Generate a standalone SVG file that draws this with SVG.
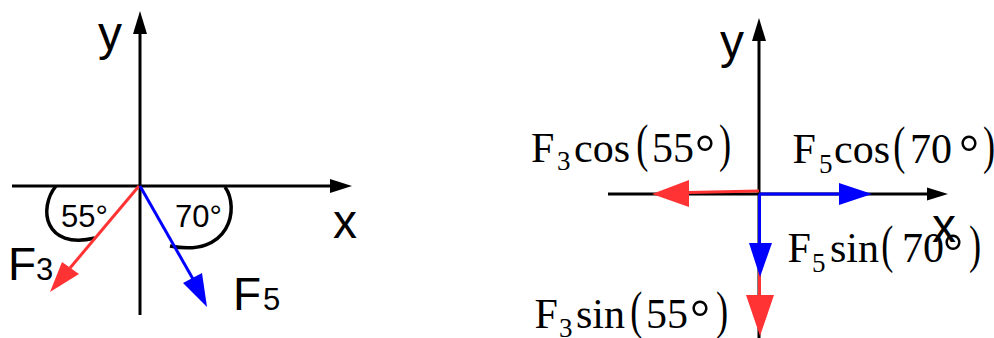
<svg xmlns="http://www.w3.org/2000/svg" width="994" height="338" viewBox="0 0 994 338">
  <defs>
    <style>
      .axis { stroke: #000; stroke-width: 3; fill: none; }
      .arc { stroke: #000; stroke-width: 3.5; fill: none; }
      .red { stroke: #ff3333; stroke-width: 3; fill: none; }
      .blue { stroke: #0000ff; stroke-width: 3; fill: none; }
      .redh { fill: #ff3333; }
      .blueh { fill: #0000ff; }
      .blk { fill: #000; }
      .sans { font-family: "Liberation Sans", Arial, sans-serif; fill: #000; }
      .serif { font-family: "Liberation Serif", "Times New Roman", serif; fill: #000; }
      .m { font-size: 42px; }
      .s { font-size: 27px; }
      .p { font-size: 52px; }
      .d { font-size: 50px; }
    </style>
  </defs>

  <!-- LEFT DIAGRAM -->
  <g id="left-axes">
    <line class="axis" x1="140" y1="315" x2="140" y2="32"/>
    <polygon class="blk" points="140,11 133,34 147,34"/>
    <line class="axis" x1="12" y1="186" x2="332" y2="186"/>
    <polygon class="blk" points="352,186 330,179 330,193"/>
    <text class="sans" x="98" y="50" font-size="48">y</text>
    <text class="sans" x="333" y="238" font-size="48">x</text>
  </g>
  <g id="angle-55">
    <path class="arc" d="M 56 186 C 38 208 44 250 95 238"/>
    <text class="sans" x="61" y="227" font-size="31">55°</text>
  </g>
  <g id="angle-70">
    <path class="arc" d="M 225 187 C 240 208 230 258 170 246"/>
    <text class="sans" x="175" y="227" font-size="31">70°</text>
  </g>
  <g id="connectors-left">
    <line class="red" x1="139" y1="186" x2="70" y2="268"/>
    <polygon class="redh" points="50,292 62,262 79,274"/>
    <line class="blue" x1="140" y1="186" x2="193" y2="279"/>
    <polygon class="blueh" points="207,307 183,283 202,273"/>
  </g>
  <g id="F3">
    <text class="sans" x="8" y="280" font-size="46">F</text>
    <text class="sans" x="36" y="280" font-size="31">3</text>
  </g>
  <g id="F5">
    <text class="sans" x="233" y="310" font-size="46">F</text>
    <text class="sans" x="263" y="310" font-size="31">5</text>
  </g>

  <!-- RIGHT DIAGRAM -->
  <g id="right-axes">
    <line class="axis" x1="759" y1="340" x2="759" y2="39"/>
    <polygon class="blk" points="759,18 752,41 766,41"/>
    <line class="axis" x1="608" y1="194" x2="929" y2="194"/>
    <polygon class="blk" points="948,194 927,187.5 927,200.5"/>
    <text class="sans" x="720" y="58" font-size="48">y</text>
  </g>
  <g id="connectors-right">
    <line class="red" x1="759" y1="191" x2="688" y2="192.5"/>
    <polygon class="redh" points="652,194 689,180 689,207"/>
    <line class="blue" x1="759" y1="194" x2="841" y2="194"/>
    <polygon class="blueh" points="872,194 839,183 839,205"/>
    <line class="red" x1="759.5" y1="194" x2="759.5" y2="296"/>
    <polygon class="redh" points="760,336 746,295 774,295"/>
    <line class="blue" x1="759.5" y1="194" x2="759.5" y2="245"/>
    <polygon class="blueh" points="760,277 749,243 772,243"/>
  </g>
  <g id="F3cos">
    <text class="serif"><tspan class="m" x="531" y="162">F</tspan><tspan class="s" x="557" y="170">3</tspan><tspan class="m" x="574" y="162">cos</tspan><tspan class="m" x="652" y="162">55</tspan><tspan class="d" x="695" y="169">°</tspan></text>
    <text class="serif p" transform="translate(636.3,161) scale(0.7,1)">(</text>
    <text class="serif p" transform="translate(719,161) scale(0.7,1)">)</text>
  </g>
  <g id="F5cos">
    <text class="serif"><tspan class="m" x="792.5" y="163">F</tspan><tspan class="s" x="819" y="173">5</tspan><tspan class="m" x="834" y="163">cos</tspan><tspan class="m" x="910" y="163">70</tspan><tspan class="d" x="959" y="169">°</tspan></text>
    <text class="serif p" transform="translate(893.3,163) scale(0.7,1)">(</text>
    <text class="serif p" transform="translate(983,163) scale(0.7,1)">)</text>
  </g>
  <g id="x-label-right">
    <text class="sans" x="932" y="242" font-size="48">x</text>
  </g>
  <g id="F5sin">
    <text class="serif"><tspan class="m" x="787.5" y="262">F</tspan><tspan class="s" x="812" y="272">5</tspan><tspan class="m" x="830" y="262">sin</tspan><tspan class="m" x="902" y="262">70</tspan><tspan class="d" x="943" y="268">°</tspan></text>
    <text class="serif p" transform="translate(881.3,262) scale(0.7,1)">(</text>
    <text class="serif p" transform="translate(969,262) scale(0.7,1)">)</text>
  </g>
  <g id="F3sin">
    <text class="serif"><tspan class="m" x="534.5" y="328">F</tspan><tspan class="s" x="559" y="337">3</tspan><tspan class="m" x="576" y="328">sin</tspan><tspan class="m" x="646" y="328">55</tspan><tspan class="d" x="690" y="334">°</tspan></text>
    <text class="serif p" transform="translate(630.3,328) scale(0.7,1)">(</text>
    <text class="serif p" transform="translate(716,328) scale(0.7,1)">)</text>
  </g>
</svg>
